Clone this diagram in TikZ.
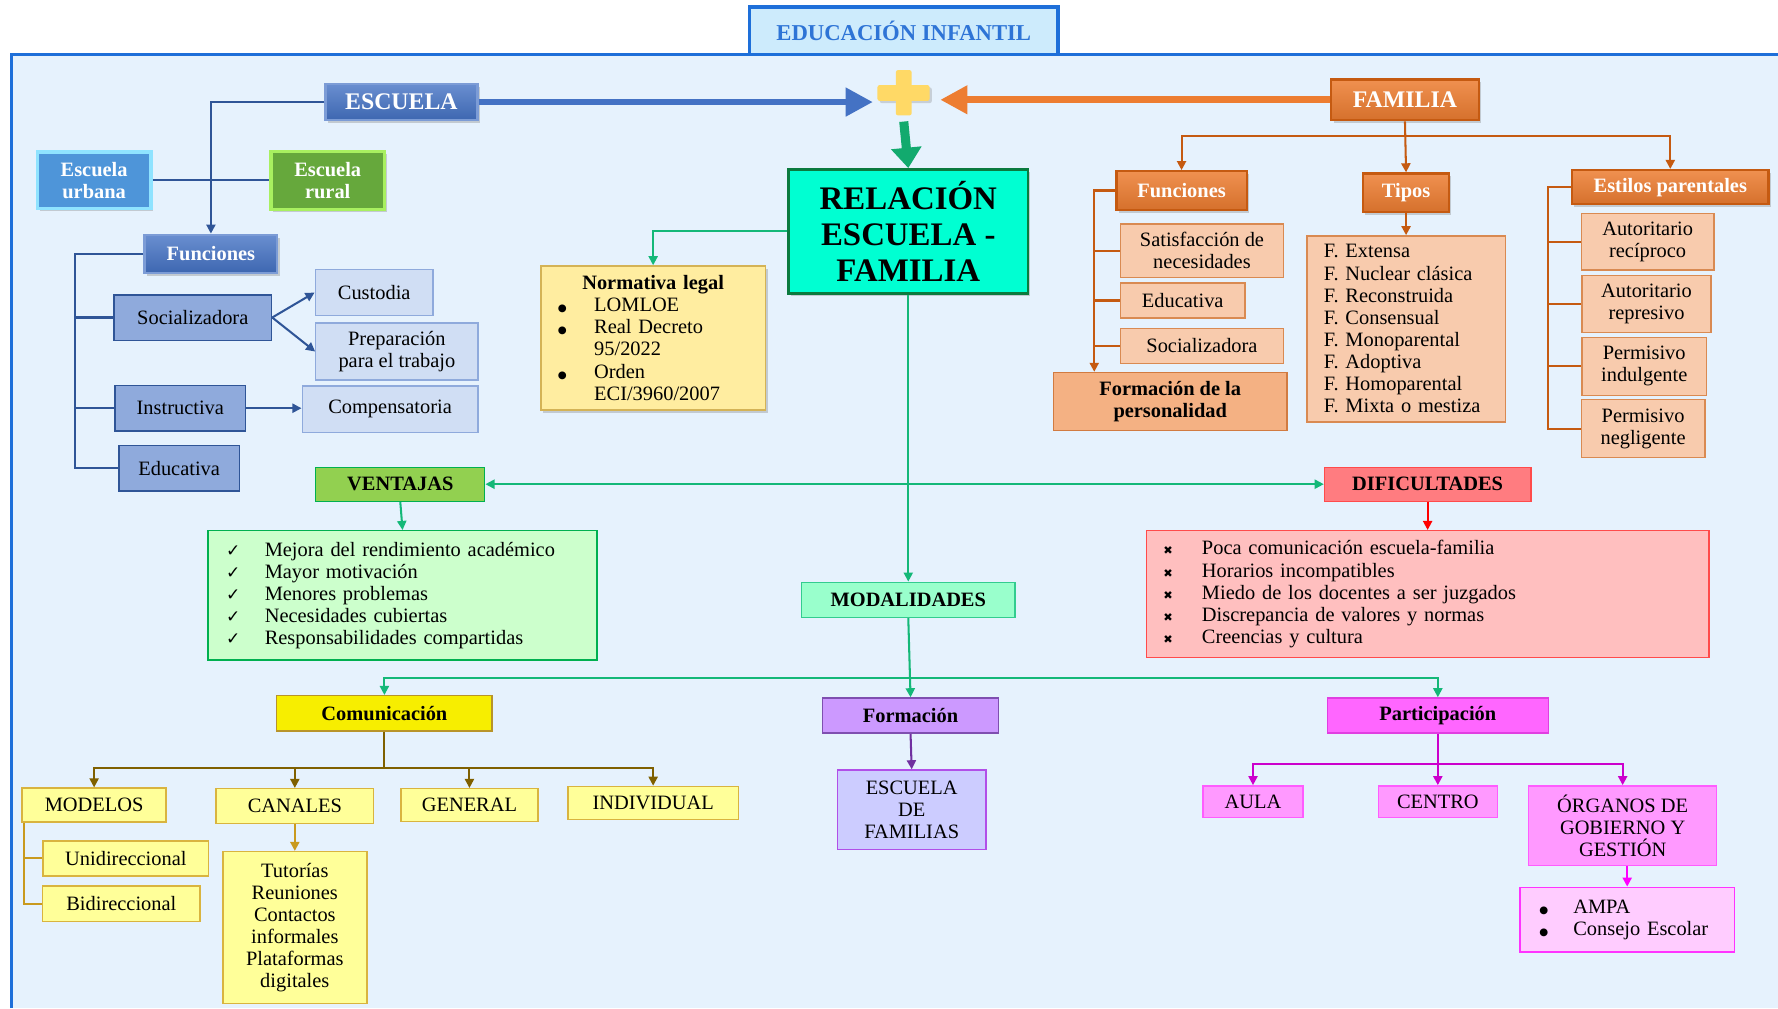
\documentclass[tikz,border=0pt]{standalone}
\usepackage{fontspec}
\setmainfont{Liberation Serif}
\newfontfamily\symf{DejaVu Sans}
\usetikzlibrary{positioning,arrows.meta,shadows}

\definecolor{fondo}{HTML}{E6F2FD}
\definecolor{marco}{HTML}{1E6FD9}
\definecolor{titfill}{HTML}{CDEBFC}
\definecolor{titink}{HTML}{2E74D6}
\definecolor{escazul}{HTML}{4472C4}
\definecolor{azuloscuro}{HTML}{2F5597}
\definecolor{azulmedio}{HTML}{8FAADC}
\definecolor{azulclaro}{HTML}{D0DEF4}
\definecolor{famnaranja}{HTML}{ED7D31}
\definecolor{naranjaosc}{HTML}{C55A11}
\definecolor{naranjaclaro}{HTML}{F8CBAD}
\definecolor{naranjamed}{HTML}{F4B183}
\definecolor{naranjaborde}{HTML}{D98A52}
\definecolor{cruz}{HTML}{FFD966}
\definecolor{verdeflecha}{HTML}{12AA6E}
\definecolor{verdelinea}{HTML}{14B878}
\definecolor{aqua}{HTML}{00FFD2}
\definecolor{relborde}{HTML}{0B7A3E}
\definecolor{normfill}{HTML}{FFEDA0}
\definecolor{normborde}{HTML}{D4B356}
\definecolor{ventfill}{HTML}{92D050}
\definecolor{ventborde}{HTML}{00B050}
\definecolor{ventlista}{HTML}{CCFFCC}
\definecolor{diffill}{HTML}{FF7C80}
\definecolor{difborde}{HTML}{FF4B4B}
\definecolor{diflista}{HTML}{FFBFBF}
\definecolor{rojo}{HTML}{FF0000}
\definecolor{modfill}{HTML}{99FFCC}
\definecolor{modborde}{HTML}{33CC8F}
\definecolor{comfill}{HTML}{F7EE00}
\definecolor{comborde}{HTML}{B8942A}
\definecolor{marron}{HTML}{7F6000}
\definecolor{oro}{HTML}{C99A1E}
\definecolor{amarclaro}{HTML}{FFFF99}
\definecolor{amarborde}{HTML}{D9B43F}
\definecolor{forfill}{HTML}{CC99FF}
\definecolor{forborde}{HTML}{7F4FB0}
\definecolor{morado}{HTML}{7030A0}
\definecolor{efamfill}{HTML}{CCCCFF}
\definecolor{efamborde}{HTML}{B14FE8}
\definecolor{partfill}{HTML}{FF66FF}
\definecolor{partborde}{HTML}{E13FE1}
\definecolor{magentaosc}{HTML}{CC00CC}
\definecolor{magentavivo}{HTML}{FF00FF}
\definecolor{rosa}{HTML}{FF99FF}
\definecolor{rosaborde}{HTML}{FF5CFF}
\definecolor{rosaclaro}{HTML}{FFCCFF}
\definecolor{urbfill}{HTML}{4E95D9}
\definecolor{urbborde}{HTML}{8FE3FF}
\definecolor{rurfill}{HTML}{66A83C}
\definecolor{rurborde}{HTML}{A8F060}

\newcommand{\okit}{\makebox[34pt][l]{\symf\fontsize{15}{15}\selectfont ✓}}
\newcommand{\koit}{\makebox[34pt][l]{\symf\fontsize{10}{10}\selectfont ✖}}
\newcommand{\bul}[1]{\makebox[#1][l]{\hspace*{2pt}\symf\fontsize{9}{9}\selectfont ●}}

\begin{document}
\begin{tikzpicture}[x=1pt,y=-1pt,
  every node/.style={font=\fontsize{18}{19.5}\selectfont},
  caja/.style={rectangle, align=center, inner sep=2pt, line width=1.2pt},
  tam/.style 2 args={minimum width=#1pt, minimum height=#2pt},
  lista/.style={rectangle, align=left, inner xsep=#1, inner ysep=2pt, line width=1.2pt},
  relieve/.style={drop shadow={shadow xshift=2pt, shadow yshift=-2.5pt, opacity=0.35}},
  blanco/.style={text=white, font=\bfseries\fontsize{18}{19.5}\selectfont},
  negrita/.style={font=\bfseries\fontsize{18}{19.5}\selectfont},
  punta/.style={-{Triangle[length=8pt,width=8pt]}},
  azul/.style={draw=azuloscuro, line width=1.8pt},
  naranja/.style={draw=naranjaosc, line width=1.8pt},
  verde/.style={draw=verdelinea, line width=1.8pt},
  bevazul/.style={caja, blanco, top color=escazul!80!white, bottom color=escazul!90!black, draw=escazul!70!white, line width=2pt, relieve},
  bevnar/.style={caja, blanco, top color=famnaranja!85!white, bottom color=famnaranja!90!black, draw=naranjaosc, line width=2pt, relieve},
  azulbox/.style={caja, fill=azulmedio, draw=azuloscuro},
  azulclbox/.style={caja, fill=azulclaro, draw=azulmedio},
  narbox/.style={caja, fill=naranjaclaro, draw=naranjaborde},
  amarbox/.style={caja, fill=amarclaro, draw=amarborde},
  rosabox/.style={caja, fill=rosa, draw=rosaborde}]

  % fondo y marco
  \useasboundingbox (0,0) rectangle (1568,889);
  \fill[white] (0,0) rectangle (1568,889);
  \fill[fondo] (10,48) rectangle (1568,889);
  \draw[marco, line width=3pt] (10,889) -- (10,48) -- (1568,48);

  % titulo
  \node[caja, tam={272}{42}, fill=titfill, draw=marco, line width=3pt, text=titink,
        font=\bfseries\fontsize{20}{22}\selectfont] (titulo) at (797,27) {EDUCACIÓN INFANTIL};

  % escuela + familia
  \node[bevazul, tam={134}{32}, font=\bfseries\fontsize{21}{23}\selectfont] (escuela) at (354,90) {ESCUELA};
  \node[bevnar, tam={130}{36}, font=\bfseries\fontsize{21}{23}\selectfont] (familia) at (1239,88) {FAMILIA};
  \node[tam={46}{40}, inner sep=0pt] (plus) at (797,82) {};
  \fill[cruz, rounded corners=2pt, drop shadow={shadow xshift=2pt, shadow yshift=-2pt, opacity=0.3}]
    (plus.west) ++(0,-7) rectangle ++(46,14);
  \fill[cruz, rounded corners=2pt] (plus.north) ++(-7,0) rectangle ++(14,40);

  % relacion escuela - familia
  \node[caja, tam={211}{109}, fill=aqua, draw=relborde, line width=2.5pt, relieve,
        font=\bfseries\fontsize{29}{32}\selectfont] (rel) at (801,204) {RELACIÓN\\ESCUELA -\\FAMILIA};

  \draw[escazul, line width=6pt, -{Triangle[length=24pt,width=24pt]}] (escuela.east) -- ([xshift=-4pt]plus.west |- escuela.east);
  \draw[famnaranja, line width=6pt, -{Triangle[length=24pt,width=24pt]}] (familia.west) -- ([xshift=9pt]plus.east |- familia.west);
  \draw[verdeflecha, line width=8pt, -{Triangle[length=18pt,width=26pt]}] ([yshift=-5pt]plus.south) -- (rel.north);

  % normativa
  \node[lista=13pt, tam={198}{127}, text width=172pt, fill=normfill, draw=normborde, relieve] (norm) at (576,298)
    {\makebox[172pt]{\bfseries Normativa legal}\\
     \bul{34pt}LOMLOE\\
     \bul{34pt}Real Decreto\\
     \hspace*{34pt}95/2022\\
     \bul{34pt}Orden\\
     \hspace*{34pt}ECI/3960/2007};
  \draw[verde, punta] (rel.west) -| (norm.north);

  % escuela: tipos y funciones
  \node[caja, blanco, tam={100}{50}, fill=urbfill, draw=urbborde, line width=3pt, relieve] (eurb) at (83,159) {Escuela\\urbana};
  \node[caja, blanco, tam={100}{51}, fill=rurfill, draw=rurborde, line width=3pt, relieve] (erur) at (289,159) {Escuela\\rural};
  \node[bevazul, tam={117}{34}] (lfun) at (186,224) {Funciones};
  \draw[azul] (eurb.east) -- (erur.west);
  \draw[azul, punta] (escuela.west) -| (lfun.north);

  \node[azulbox, tam={139}{40}] (soc) at (170,280) {Socializadora};
  \node[azulbox, tam={115}{40}] (ins) at (159,360) {Instructiva};
  \node[azulbox, tam={106}{40}] (educ) at (158,413) {Educativa};
  \node[azulclbox, tam={104}{41}] (cust) at (330,258) {Custodia};
  \node[azulclbox, tam={143}{50}] (prep) at (350,310) {Preparación\\para el trabajo};
  \node[azulclbox, tam={155}{41}] (comp) at (344,361) {Compensatoria};

  \coordinate (ltr) at (66,224);
  \draw[azul] (lfun.west) -- (ltr) |- (educ.west);
  \draw[azul] (ltr) |- (soc.west);
  \draw[azul] (ltr) |- (ins.west);
  \draw[azul, punta] (soc.east) -- (cust.west);
  \draw[azul, punta] (soc.east) -- (prep.west);
  \draw[azul, punta] (ins.east) -- (ins.east -| comp.west);

  % familia: funciones, tipos, estilos
  \node[bevnar, tam={115}{34}] (ffun) at (1042,168) {Funciones};
  \node[bevnar, tam={76}{34}] (tipos) at (1240,170) {Tipos};
  \node[bevnar, tam={173}{30}] (est) at (1473,165) {Estilos parentales};
  \coordinate (fj) at (1239,120);
  \draw[naranja, punta] (familia.south) -- (tipos.north);
  \draw[naranja, punta] (fj) -| (ffun.north);
  \draw[naranja, punta] (fj) -| (est.north);

  \node[narbox, tam={144}{47}] (sat) at (1060,221) {Satisfacción de\\necesidades};
  \node[narbox, tam={110}{31}] (feduc) at (1043,265) {Educativa};
  \node[narbox, tam={144}{31}] (fsoc) at (1060,305) {Socializadora};
  \node[caja, negrita, tam={206}{51}, fill=naranjamed, draw=naranjaosc!80!white] (forp) at (1032,354) {Formación de la\\personalidad};
  \coordinate (ftr) at (965,168);
  \draw[naranja, punta] (ffun.west) -- (ftr) -- (ftr |- forp.north);
  \draw[naranja] (ftr) |- (sat.west);
  \draw[naranja] (ftr) |- (feduc.west);
  \draw[naranja] (ftr) |- (fsoc.west);

  \node[lista=15pt, tam={175}{164}, text width=145pt, fill=naranjaclaro, draw=naranjaborde] (tlist) at (1240,290)
    {F. Extensa\\ F. Nuclear clásica\\ F. Reconstruida\\ F. Consensual\\
     F. Monoparental\\ F. Adoptiva\\ F. Homoparental\\ F. Mixta o mestiza};
  \draw[naranja, punta] (tipos.south) -- (tlist.north);

  \node[narbox, tam={117}{50}] (arec) at (1453,213) {Autoritario\\recíproco};
  \node[narbox, tam={114}{50}] (arep) at (1452,268) {Autoritario\\represivo};
  \node[narbox, tam={110}{51}] (pind) at (1450,323) {Permisivo\\indulgente};
  \node[narbox, tam={109}{51}] (pneg) at (1449,378) {Permisivo\\negligente};
  \coordinate (etr) at (1365,165);
  \draw[naranja] (est.west) -- (etr) |- (pneg.west);
  \draw[naranja] (etr) |- (arec.west);
  \draw[naranja] (etr) |- (arep.west);
  \draw[naranja] (etr) |- (pind.west);

  % ventajas y dificultades
  \node[caja, negrita, tam={149}{30}, fill=ventfill, draw=ventborde] (vent) at (353,427) {VENTAJAS};
  \node[caja, negrita, tam={182}{30}, fill=diffill, draw=difborde] (dif) at (1259,427) {DIFICULTADES};
  \node[caja, negrita, tam={188}{31}, fill=modfill, draw=modborde] (modal) at (801,529) {MODALIDADES};
  \draw[verde, punta] (rel.south) -- (modal.north);
  \draw[verde, {Triangle[length=8pt,width=8pt]}-{Triangle[length=8pt,width=8pt]}] (vent.east) -- (dif.west);

  \node[lista=16pt, tam={343}{114}, text width=311pt, fill=ventlista, draw=ventborde] (vlist) at (355,525)
    {\okit Mejora del rendimiento académico\\
     \okit Mayor motivación\\
     \okit Menores problemas\\
     \okit Necesidades cubiertas\\
     \okit Responsabilidades compartidas};
  \draw[verde, punta] (vent.south) -- (vlist.north);

  \node[lista=15pt, tam={496}{112}, text width=466pt, fill=diflista, draw=difborde] (dlist) at (1259,524)
    {\koit Poca comunicación escuela-familia\\
     \koit Horarios incompatibles\\
     \koit Miedo de los docentes a ser juzgados\\
     \koit Discrepancia de valores y normas\\
     \koit Creencias y cultura};
  \draw[rojo, line width=1.8pt, punta] (dif.south) -- (dlist.north);

  % modalidades
  \node[caja, negrita, tam={190}{31}, fill=comfill, draw=comborde] (com) at (339,629) {Comunicación};
  \node[caja, negrita, tam={155}{31}, fill=forfill, draw=forborde] (form) at (803,631) {Formación};
  \node[caja, negrita, tam={195}{31}, fill=partfill, draw=partborde] (part) at (1268,631) {Participación};
  \coordinate (mj) at (801,598);
  \draw[verde, punta] (modal.south) -- (form.north);
  \draw[verde, punta] (mj) -| (com.north);
  \draw[verde, punta] (mj) -| (part.north);

  % comunicacion
  \node[amarbox, tam={127}{30}] (mod) at (83,710) {MODELOS};
  \node[amarbox, tam={139}{31}] (can) at (260,711) {CANALES};
  \node[amarbox, tam={121}{29}] (gen) at (414,710) {GENERAL};
  \node[amarbox, tam={150}{29}] (ind) at (576,708) {INDIVIDUAL};
  \coordinate (cj) at (339,677);
  \draw[draw=marron, line width=1.8pt] (com.south) -- (cj);
  \draw[draw=marron, line width=1.8pt, punta] (cj) -| (mod.north);
  \draw[draw=marron, line width=1.8pt, punta] (cj) -| (can.north);
  \draw[draw=marron, line width=1.8pt, punta] (cj) -| (gen.north);
  \draw[draw=marron, line width=1.8pt, punta] (cj) -| (ind.north);

  \node[amarbox, tam={146}{31}] (uni) at (111,757) {Unidireccional};
  \node[amarbox, tam={139}{31}] (bid) at (107,797) {Bidireccional};
  \draw[draw=oro, line width=1.8pt] ([xshift=2pt]mod.south west) |- (bid.west);
  \draw[draw=oro, line width=1.8pt] ([xshift=2pt]mod.south west) |- (uni.west);

  \node[amarbox, tam={127}{134}] (clist) at (260,818) {Tutorías\\Reuniones\\Contactos\\informales\\Plataformas\\digitales};
  \draw[draw=oro, line width=1.8pt, punta] (can.south) -- (clist.north);

  % formacion
  \node[caja, tam={131}{70}, fill=efamfill, draw=efamborde] (efam) at (804,714) {ESCUELA\\DE\\FAMILIAS};
  \draw[draw=morado, line width=1.8pt, punta] (form.south) -- (efam.north);

  % participacion
  \node[rosabox, tam={88}{28}] (aula) at (1105,707) {AULA};
  \node[rosabox, tam={105}{28}] (centro) at (1268,707) {CENTRO};
  \node[rosabox, tam={166}{70}] (org) at (1431,728) {ÓRGANOS DE\\GOBIERNO Y\\GESTIÓN};
  \coordinate (pj) at (1268,674);
  \draw[draw=magentaosc, line width=1.8pt, punta] (part.south) -- (centro.north);
  \draw[draw=magentaosc, line width=1.8pt, punta] (pj) -| (aula.north);
  \draw[draw=magentaosc, line width=1.8pt, punta] (pj) -| (org.north);

  \node[lista=15pt, tam={189}{57}, text width=159pt, fill=rosaclaro, draw=magentavivo!80!white] (ampa) at (1435,811)
    {\bul{32pt}AMPA\\ \bul{32pt}Consejo Escolar};
  \draw[draw=magentavivo, line width=1.8pt, punta] (ampa.north |- org.south) -- (ampa.north);
\end{tikzpicture}
\end{document}
